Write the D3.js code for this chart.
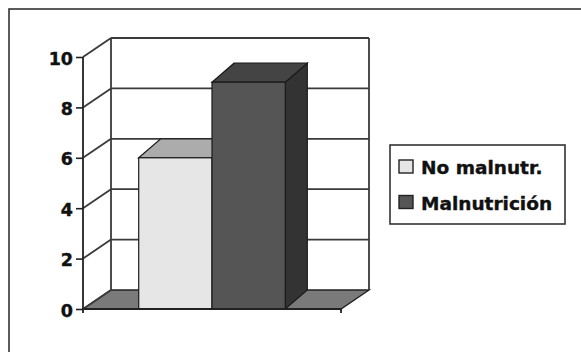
<!DOCTYPE html>
<html><head><meta charset="utf-8">
<script src="https://cdn.jsdelivr.net/npm/d3@7"></script>
<style>body{margin:0;background:#fff}svg{display:block}</style>
</head><body>
<svg id="c" width="581" height="352"></svg>
<script>
const categories = [""];
const seriesNames = ["No malnutr.", "Malnutrición"];
const seriesValues = [6, 9];
const yTicks = [0, 2, 4, 6, 8, 10];

const frontColors = ["#e6e6e6", "#555555"];
const topColors = ["#acacac", "#444444"];
const sideColors = ["#bdbdbd", "#333333"];

const svg = d3.select("#c");
const x0 = 83, x1 = 341, yBase = 309, yTop = 57;
const wallDx = 28, wallDy = -19;
const barDx = 22, barDy = -19;

const y = d3.scaleLinear().domain([0, 10]).range([yBase, yTop]);
const xCat = d3.scaleBand().domain(categories).range([x0, x1]);
const xSer = d3.scaleBand().domain(seriesNames).range([x0, x1]).paddingInner(0).paddingOuter(0.76);

// outer frame
svg.append("rect").attr("x", 9).attr("y", 9).attr("width", 640).attr("height", 400)
  .attr("fill", "none").attr("stroke", "#333").attr("stroke-width", 1.6);

const g = svg.append("g");
const line = (pts) => "M" + pts.map(p => p.join(",")).join("L");
const gridStroke = "#3a3a3a", gridW = 1.8;

// floor
g.append("path")
  .attr("d", line([[x0, yBase], [x1, yBase], [x1 + wallDx, yBase + wallDy], [x0 + wallDx, yBase + wallDy]]) + "Z")
  .attr("fill", "#7a7a7a").attr("stroke", "#222").attr("stroke-width", 1.4);

// back wall gridlines and left wall diagonals
yTicks.forEach(t => {
  const yy = y(t);
  if (t > 0) {
    g.append("path").attr("d", line([[x0 + wallDx, yy + wallDy], [x1 + wallDx, yy + wallDy]]))
      .attr("stroke", gridStroke).attr("stroke-width", gridW).attr("fill", "none");
  }
  g.append("path").attr("d", line([[x0, yy], [x0 + wallDx, yy + wallDy]]))
    .attr("stroke", gridStroke).attr("stroke-width", gridW).attr("fill", "none");
});
// back wall verticals
[x0 + wallDx, x1 + wallDx].forEach(xx => {
  g.append("path").attr("d", line([[xx, yBase + wallDy], [xx, y(10) + wallDy]]))
    .attr("stroke", gridStroke).attr("stroke-width", gridW).attr("fill", "none");
});

// bars
seriesNames.forEach((s, i) => {
  const bx = xSer(s), bw = xSer.bandwidth(), by = y(seriesValues[i]);
  const bg = g.append("g");
  bg.append("path").attr("d", line([[bx + bw, by], [bx + bw + barDx, by + barDy], [bx + bw + barDx, yBase + barDy], [bx + bw, yBase]]) + "Z")
    .attr("fill", sideColors[i]).attr("stroke", "#1a1a1a").attr("stroke-width", 1.2);
  bg.append("path").attr("d", line([[bx, by], [bx + barDx, by + barDy], [bx + bw + barDx, by + barDy], [bx + bw, by]]) + "Z")
    .attr("fill", topColors[i]).attr("stroke", "#1a1a1a").attr("stroke-width", 1.2);
  bg.append("rect").attr("x", bx).attr("y", by).attr("width", bw).attr("height", yBase - by)
    .attr("fill", frontColors[i]).attr("stroke", "#1a1a1a").attr("stroke-width", 1.2);
});

// y axis
const yAxis = d3.axisLeft(y).tickValues(yTicks).tickSize(7).tickPadding(3).tickFormat(d3.format("d"));
const ya = svg.append("g").attr("transform", `translate(${x0},0)`).call(yAxis);
ya.select(".domain").attr("d", `M-0,${y(10)}V${yBase}`).attr("stroke", "#222").attr("stroke-width", 1.8);
ya.selectAll(".tick line").attr("stroke", "#222").attr("stroke-width", 1.6);
ya.selectAll(".tick text").attr("font-family", "DejaVu Sans").attr("font-weight", "bold")
  .attr("font-size", 17.5).attr("fill", "#111").attr("stroke", "#111").attr("stroke-width", 0.4).attr("dy", "0.4em");

// x axis
const xAxis = d3.axisBottom(xCat).tickSize(0).tickFormat("");
const xa = svg.append("g").attr("transform", `translate(0,${yBase})`).call(xAxis);
xa.select(".domain").attr("d", `M${x0},4V0H${x1}V4`).attr("stroke", "#222").attr("stroke-width", 1.8).attr("fill", "none");

// legend
const lg = svg.append("g");
lg.append("rect").attr("x", 390).attr("y", 145).attr("width", 175).attr("height", 79)
  .attr("fill", "#fff").attr("stroke", "#333").attr("stroke-width", 1.6);
seriesNames.forEach((s, i) => {
  const yy = 160 + i * 35.5;
  lg.append("rect").attr("x", 399).attr("y", yy).attr("width", 14).attr("height", 13)
    .attr("fill", frontColors[i]).attr("stroke", "#222").attr("stroke-width", 1.4);
  lg.append("text").attr("x", 421).attr("y", yy + 14).text(s)
    .attr("font-family", "DejaVu Sans").attr("font-weight", "bold").attr("font-size", 18.5)
    .attr("fill", "#111").attr("stroke", "#111").attr("stroke-width", 0.4);
});
</script>
</body></html>
